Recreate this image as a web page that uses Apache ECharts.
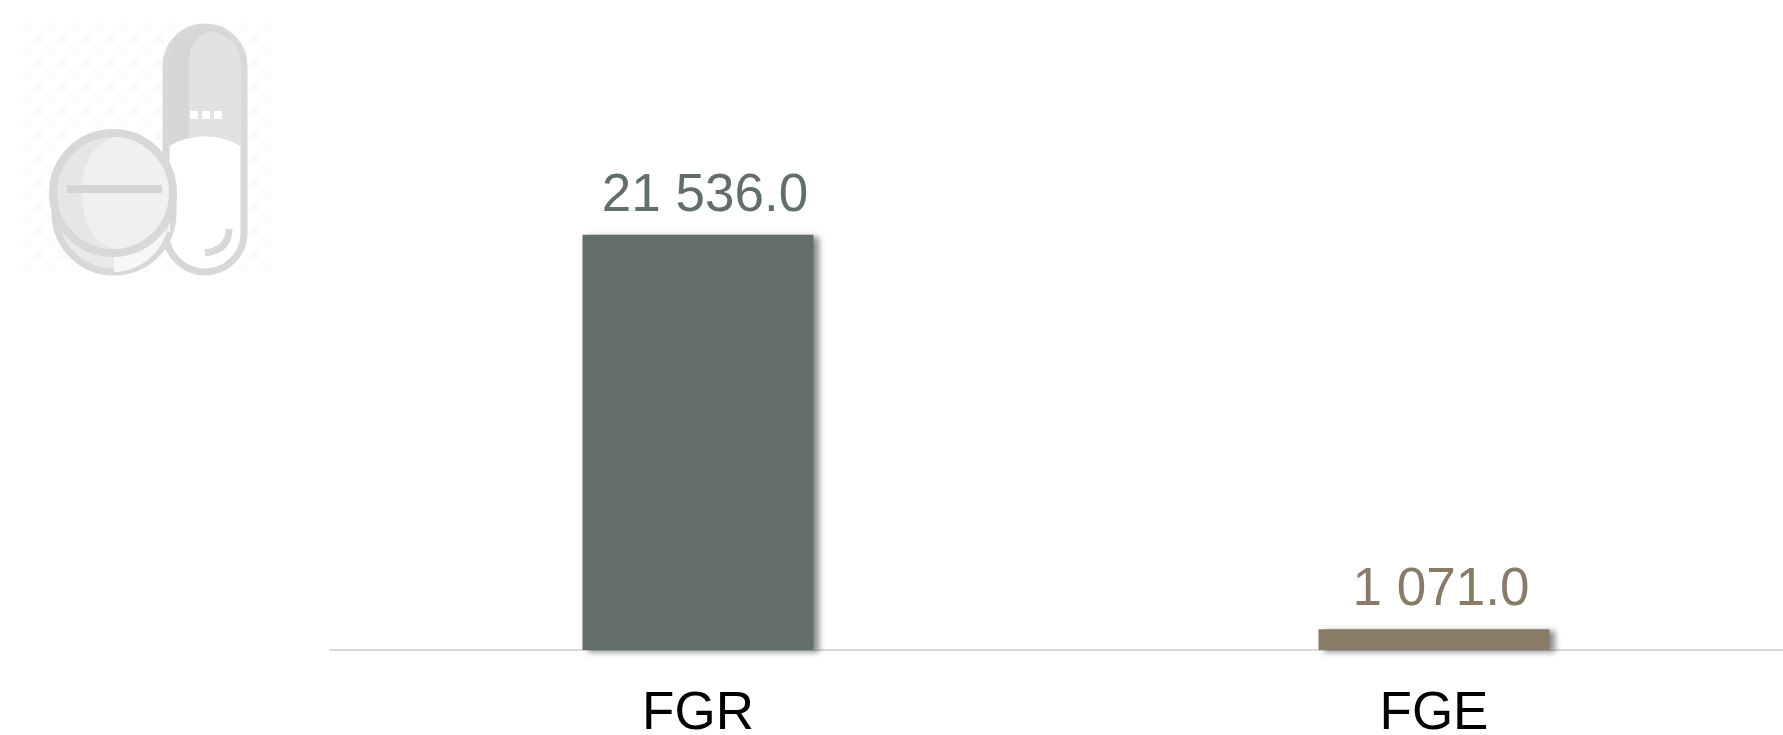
<!DOCTYPE html>
<html><head><meta charset="utf-8">
<style>html,body{margin:0;padding:0;background:#fff}#c{width:1783px;height:735px}</style>
<script src="https://cdn.jsdelivr.net/npm/echarts@6/dist/echarts.min.js"></script>
</head><body><div id="c"></div>
<script>
const categories = ['FGR', 'FGE'];
const values = [21536, 1071];
const valueLabels = ['21 536.0', '1 071.0'];
const barColors = ['#626F69', '#887B67'];

const G = '#d8d8d8';
let pathCount = 0;
function svgPath(d, style) {
  const name = 'logoPath' + (pathCount++);
  echarts.graphic.registerShape(name, echarts.graphic.extendPath(d, {}));
  return {type:name, style:style, silent:true};
}
const logo = [];
for (let y = 23; y < 270; y += 12) for (let x = 23; x < 270; x += 12) {
  if (((x - 23) / 12 + (y - 23) / 12) % 2 === 0)
    logo.push({type:'rect', shape:{x:x, y:y, width:9, height:9}, style:{fill:'#fbfbfb'}, silent:true});
}
logo.push(
  {type:'rect', shape:{x:166,y:27,width:78,height:245,r:39}, style:{fill:'#fff',stroke:G,lineWidth:7}, silent:true},
  svgPath('M169 146 V66 A36 36 0 0 1 241 66 V146 Q205 126 169 146 Z', {fill:'#d6d6d6'}),
  svgPath('M189 138 V62 Q189 38 210 31 Q241 38 241 66 V146 Q220 132 189 138 Z', {fill:'#e2e2e2'}),
  {type:'rect', shape:{x:190,y:111,width:8,height:8}, style:{fill:'#fff'}, silent:true},
  {type:'rect', shape:{x:202,y:111,width:8,height:8}, style:{fill:'#fff'}, silent:true},
  {type:'rect', shape:{x:214,y:111,width:8,height:8}, style:{fill:'#fff'}, silent:true},
  svgPath('M229 229 Q229 250 205 253', {fill:'none',stroke:G,lineWidth:7}),
  svgPath('M55 190 V213 A59 59 0 0 0 173 213 V190 Z', {fill:'#e9e9e9',stroke:G,lineWidth:7}),
  svgPath('M114 232 H170 V213 A56 60 0 0 1 114 272 Z', {fill:'#f7f7f7'}),
  {type:'circle', shape:{cx:113,cy:193,r:60}, style:{fill:'#e6e6e6',stroke:G,lineWidth:8}, silent:true},
  svgPath('M113 137 A56 56 0 0 1 113 249 Q82 238 82 193 Q82 150 113 137 Z', {fill:'#f0f0f0'}),
  {type:'rect', shape:{x:67,y:185,width:95,height:8}, style:{fill:'#d5d5d5'}, silent:true}
);

const chart = echarts.init(document.getElementById('c'), null, {renderer:'canvas'});
chart.setOption({
  animation:false,
  backgroundColor:'#fff',
  graphic:{elements:logo},
  grid:{left:330, width:1472, top:168, height:482, containLabel:false, outerBoundsMode:'none'},
  xAxis:{
    type:'category', data:categories,
    axisLine:{lineStyle:{color:'#d9d9d9',width:2}},
    axisTick:{show:false},
    axisLabel:{color:'#000',fontFamily:'Liberation Sans',fontSize:53,margin:38,interval:0}
  },
  yAxis:{type:'value',min:0,max:25000,show:false,splitLine:{show:false}},
  series:[{
    type:'bar', barWidth:231,
    data:values.map((v,i)=>({
      value:v,
      itemStyle:{color:barColors[i],shadowColor:'rgba(0,0,0,0.45)',shadowBlur:6,shadowOffsetX:5,shadowOffsetY:2},
      label:{color:barColors[i]}
    })),
    label:{show:true,position:'top',distance:12,offset:[7,0],fontFamily:'Liberation Sans',fontSize:53,
      formatter:p=>valueLabels[p.dataIndex]}
  }]
});
</script></body></html>
